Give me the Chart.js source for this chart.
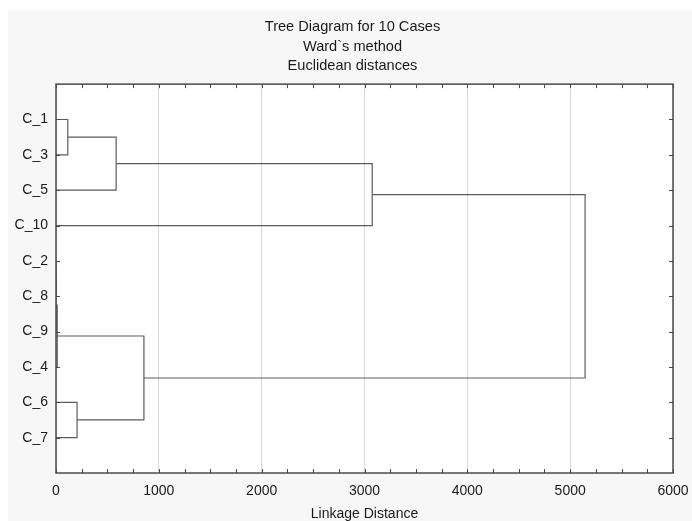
<!DOCTYPE html>
<html>
<head>
<meta charset="utf-8">
<script src="https://cdn.jsdelivr.net/npm/chart.js@4"></script>
<style>
  body { margin: 0; background: #fff; }
  #wrap { width: 692px; height: 521px; }
</style>
</head>
<body>
<div id="wrap"><canvas id="myChart" width="692" height="521"></canvas></div>
<script>
// leaf order, top to bottom
const cases = ["C_1", "C_3", "C_5", "C_10", "C_2", "C_8", "C_9", "C_4", "C_6", "C_7"];

// merges: joinA + joinB at linkage distance joinDist, new node is joinName
const joinName = ["n1", "n2", "n3", "n4", "n5", "n6", "n7", "n8", "n9"];
const joinA = ["C_2", "n1", "n2", "C_1", "C_6", "n4", "n3", "n6", "n8"];
const joinB = ["C_8", "C_9", "C_4", "C_3", "C_7", "C_5", "n5", "C_10", "n7"];
const joinDist = [0, 0, 12, 115, 205, 585, 855, 3075, 5145];

const xTicks = [0, 1000, 2000, 3000, 4000, 5000, 6000];
const titleLines = ["Tree Diagram for 10 Cases", "Ward`s method", "Euclidean distances"];

// node position (y) and height (x)
const pos = {};
const hgt = {};
cases.forEach((c, i) => { pos[c] = i + 1; hgt[c] = 0; });

const lineColor = "#5c5c5c";
const datasets = [];
joinName.forEach((n, i) => {
  const a = joinA[i], b = joinB[i], d = joinDist[i];
  datasets.push({
    data: [
      { x: hgt[a], y: pos[a] },
      { x: d, y: pos[a] },
      { x: d, y: pos[b] },
      { x: hgt[b], y: pos[b] },
    ],
    showLine: true,
    borderColor: lineColor,
    borderWidth: 1.2,
    pointRadius: 0,
    tension: 0,
  });
  pos[n] = (pos[a] + pos[b]) / 2;
  hgt[n] = d;
});

// background panel + frame with inward ticks
const panel = {
  id: "panel",
  beforeDraw(chart) {
    const c = chart.ctx;
    const a = chart.chartArea;
    c.save();
    c.fillStyle = "#fff";
    c.fillRect(0, 0, chart.width, chart.height);
    c.fillStyle = "#f7f7f7";
    c.fillRect(8, 10, chart.width - 8, chart.height - 10);
    c.fillStyle = "#fff";
    c.fillRect(a.left, a.top, a.right - a.left, a.bottom - a.top);
    c.restore();
  },
  afterDraw(chart) {
    const c = chart.ctx;
    const a = chart.chartArea;
    const xs = chart.scales.x;
    const ys = chart.scales.y;
    c.save();
    c.strokeStyle = "#4a4a4a";
    c.lineWidth = 1;
    c.beginPath();
    for (let v = 0; v <= 6000; v += 250) {
      const px = Math.round(xs.getPixelForValue(v)) + 0.5;
      c.moveTo(px, a.top); c.lineTo(px, a.top + 4);
      c.moveTo(px, a.bottom); c.lineTo(px, a.bottom - 4);
    }
    cases.forEach((_, i) => {
      const py = Math.round(ys.getPixelForValue(i + 1)) + 0.5;
      c.moveTo(a.left, py); c.lineTo(a.left + 4, py);
      c.moveTo(a.right, py); c.lineTo(a.right - 4, py);
    });
    c.stroke();
    c.lineWidth = 1.5;
    c.strokeRect(a.left, a.top, a.right - a.left, a.bottom - a.top);
    c.restore();
  },
};

const font = { family: "'Liberation Sans', Arial, sans-serif", size: 14 };

new Chart(document.getElementById("myChart"), {
  type: "scatter",
  data: { datasets: datasets },
  plugins: [panel],
  options: {
    responsive: false,
    animation: false,
    layout: { padding: { left: 13, right: 0, top: 0, bottom: 0 } },
    plugins: {
      legend: { display: false },
      tooltip: { enabled: false },
      title: {
        display: true,
        text: titleLines,
        color: "#1a1a1a",
        font: { family: font.family, size: 14.6, weight: "normal", lineHeight: 1.35 },
        padding: { top: 17, bottom: 8 },
      },
    },
    scales: {
      x: {
        type: "linear",
        min: 0,
        max: 6000,
        afterBuildTicks: (s) => { s.ticks = xTicks.map((v) => ({ value: v })); },
        afterFit: (s) => { s.height = 48; s.paddingLeft = 0; s.paddingRight = 0; },
        ticks: {
          color: "#1a1a1a",
          font: font,
          padding: 10,
          maxRotation: 0,
          callback: (v) => String(v),
        },
        grid: { color: "#d9d9d9", drawTicks: false },
        border: { display: false },
        title: {
          display: true,
          text: "Linkage Distance",
          color: "#1a1a1a",
          font: { family: font.family, size: 14, lineHeight: 1 },
          padding: { top: 0, bottom: 0 },
        },
      },
      y: {
        type: "linear",
        reverse: true,
        min: 0,
        max: 11,
        afterBuildTicks: (s) => { s.ticks = cases.map((_, i) => ({ value: i + 1 })); },
        afterFit: (s) => { s.width = 43; s.paddingTop = 0; s.paddingBottom = 0; },
        ticks: {
          color: "#1a1a1a",
          font: font,
          padding: 8,
          autoSkip: false,
          callback: (v) => cases[v - 1] || "",
        },
        grid: { display: false, drawTicks: false },
        border: { display: false },
      },
      y2: {
        type: "linear",
        position: "right",
        min: 0,
        max: 11,
        afterFit: (s) => { s.width = 19; },
        ticks: { display: false },
        grid: { display: false, drawTicks: false },
        border: { display: false },
      },
    },
  },
});
</script>
</body>
</html>
